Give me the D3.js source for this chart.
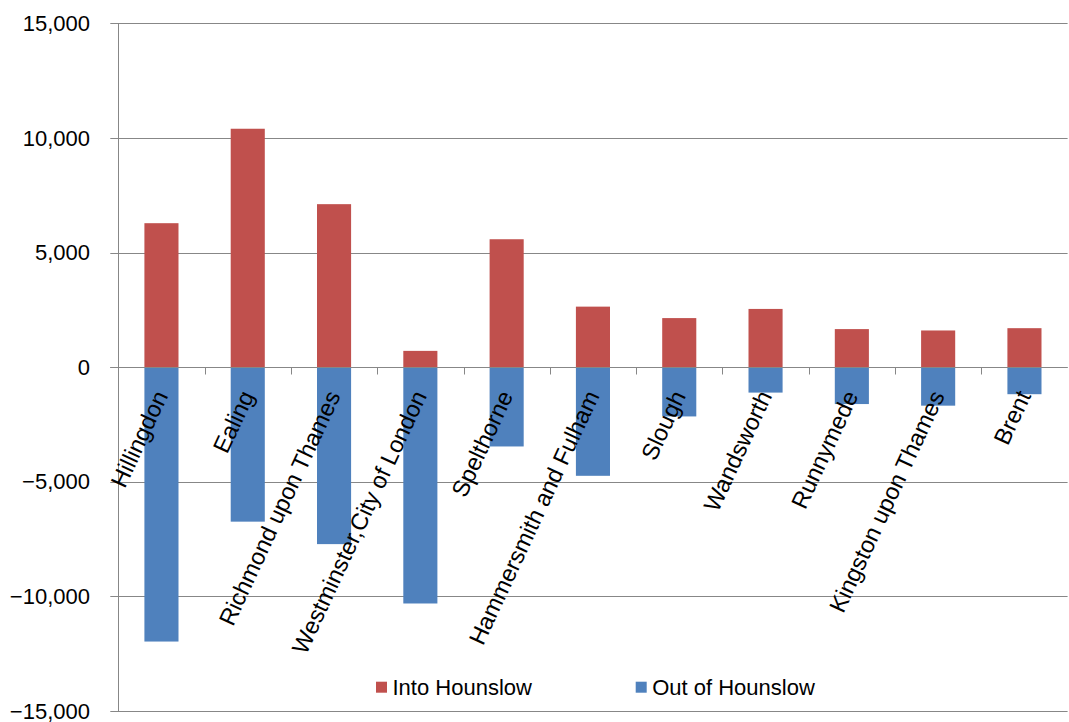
<!DOCTYPE html>
<html>
<head>
<meta charset="utf-8">
<script src="https://cdn.jsdelivr.net/npm/d3@7"></script>
<style>
  html, body { margin: 0; padding: 0; background: #fff; }
  svg { display: block; font-family: "Liberation Sans", Arial, sans-serif; }
</style>
</head>
<body>
<svg id="chart" width="1069" height="722"></svg>
<script>
const categories = ["Hillingdon", "Ealing", "Richmond upon Thames", "Westminster,City of London",
  "Spelthorne", "Hammersmith and Fulham", "Slough", "Wandsworth", "Runnymede",
  "Kingston upon Thames", "Brent"];
const intoHounslow = [6280, 10400, 7110, 710, 5580, 2640, 2140, 2540, 1660, 1600, 1700];
const outOfHounslow = [-11970, -6740, -7720, -10310, -3460, -4740, -2150, -1110, -1610, -1680, -1180];
const yTicks = [-15000, -10000, -5000, 0, 5000, 10000, 15000];
const seriesNames = ["Into Hounslow", "Out of Hounslow"];
const seriesColors = ["#C0504D", "#4F81BD"];

(function () {
const svg = d3.select("#chart");
const plotLeft = 118.3, plotRight = 1067.6, plotTop = 23.3, plotBottom = 711;
const fontSize = 22;
const labelFontSize = 23.5;

const x = d3.scaleBand().domain(categories).range([plotLeft, plotRight]).padding(0);
const y = d3.scaleLinear().domain([-15000, 15000]).range([plotBottom, plotTop]);
const barW = x.bandwidth() * 0.395;
const fmt = d3.format(",");

// gridlines
svg.append("g").selectAll("line").data(yTicks).join("line")
  .attr("x1", plotLeft - 8).attr("x2", plotRight)
  .attr("y1", d => Math.round(y(d)) + 0.5).attr("y2", d => Math.round(y(d)) + 0.5)
  .attr("stroke", "#878787").attr("stroke-width", 1);

// y tick labels
svg.append("g").selectAll("text").data(yTicks).join("text")
  .attr("x", 90).attr("y", d => y(d))
  .attr("dy", "0.35em")
  .attr("text-anchor", "end")
  .attr("font-size", fontSize)
  .attr("fill", "#000")
  .text(d => fmt(d));

// bars
const gBars = svg.append("g");
gBars.selectAll("rect.into").data(categories).join("rect")
  .attr("class", "into")
  .attr("x", d => x(d) + (x.bandwidth() - barW) / 2)
  .attr("width", barW)
  .attr("y", (d, i) => y(intoHounslow[i]))
  .attr("height", (d, i) => y(0) - y(intoHounslow[i]))
  .attr("fill", seriesColors[0]);
gBars.selectAll("rect.out").data(categories).join("rect")
  .attr("class", "out")
  .attr("x", d => x(d) + (x.bandwidth() - barW) / 2)
  .attr("width", barW)
  .attr("y", y(0))
  .attr("height", (d, i) => y(outOfHounslow[i]) - y(0))
  .attr("fill", seriesColors[1]);

// zero line
const y0 = Math.round(y(0)) + 0.5;
svg.append("line").attr("x1", plotLeft - 8).attr("x2", plotRight)
  .attr("y1", y0).attr("y2", y0)
  .attr("stroke", "#878787").attr("stroke-width", 1);

// category tick marks
svg.append("g").selectAll("line").data(categories.slice(1)).join("line")
  .attr("x1", d => Math.round(x(d)) + 0.5).attr("x2", d => Math.round(x(d)) + 0.5)
  .attr("y1", y0).attr("y2", y0 + 7)
  .attr("stroke", "#878787").attr("stroke-width", 1);

// vertical axis line
svg.append("line")
  .attr("x1", Math.round(plotLeft) + 0.5).attr("x2", Math.round(plotLeft) + 0.5)
  .attr("y1", plotTop).attr("y2", plotBottom + 0.5)
  .attr("stroke", "#878787").attr("stroke-width", 1);

// category labels (rotated)
svg.append("g").selectAll("text").data(categories).join("text")
  .attr("transform", d => `translate(${x(d) + x.bandwidth() / 2 - 0.5},${y(0) + 25}) rotate(-65)`)
  .attr("text-anchor", "end")
  .attr("dy", "0.35em")
  .attr("font-size", labelFontSize)
  .attr("fill", "#000")
  .text(d => d);

// legend
const legendX = [376, 635.7];
const legend = svg.append("g");
seriesNames.forEach((name, i) => {
  legend.append("rect")
    .attr("x", legendX[i]).attr("y", 681.7)
    .attr("width", 11).attr("height", 11)
    .attr("fill", seriesColors[i]);
  legend.append("text")
    .attr("x", legendX[i] + 16.5).attr("y", 695)
    .attr("font-size", fontSize)
    .attr("fill", "#000")
    .text(name);
});
})();
</script>
</body>
</html>
